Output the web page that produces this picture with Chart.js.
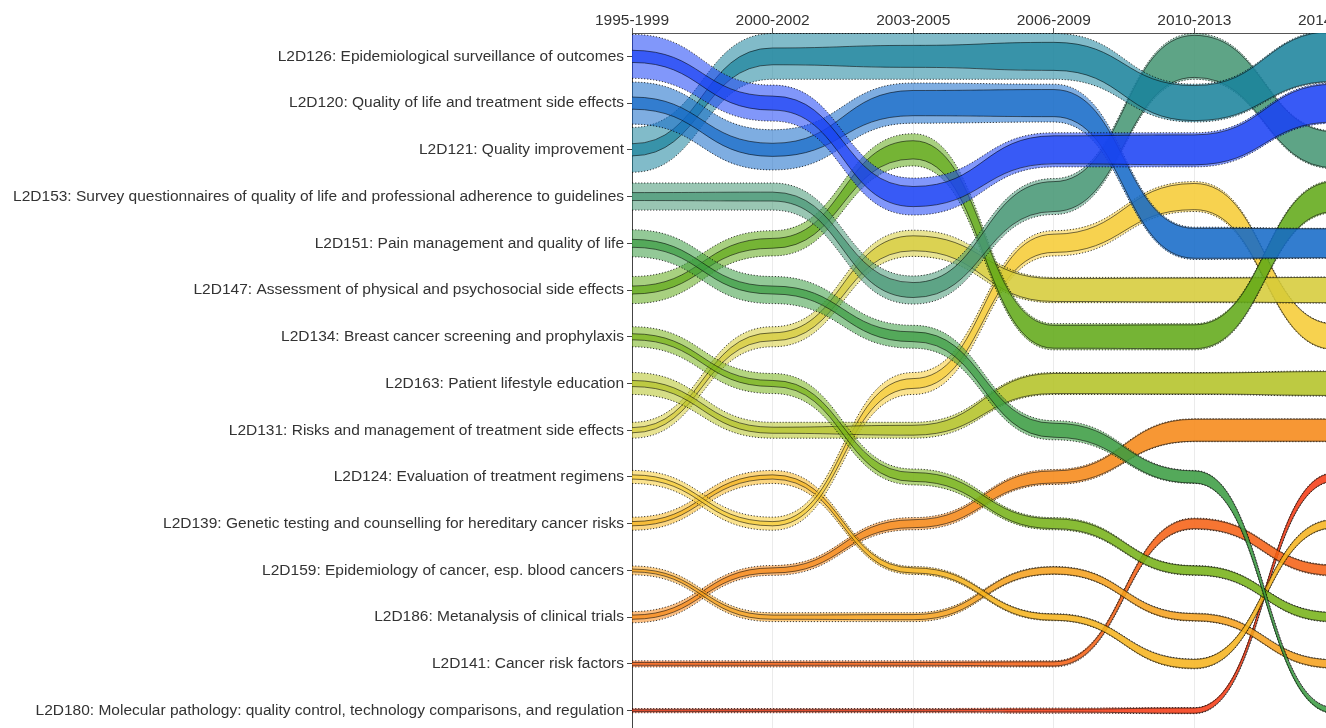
<!DOCTYPE html>
<html>
<head>
<meta charset="utf-8">
<script src="https://cdn.jsdelivr.net/npm/chart.js@4/dist/chart.umd.min.js"></script>
<style>
  html, body { margin: 0; padding: 0; overflow: hidden; background: #fff; }
  #wrap { position: relative; width: 1335px; height: 734px; }
</style>
</head>
<body>
<div id="wrap"><canvas id="flowChart"></canvas></div>
<script>
// Periode (sumbu x)
var periods = ["1995-1999", "2000-2002", "2003-2005", "2006-2009", "2010-2013", "2014-2017"];

// Topik, urut menurut peringkat pada periode pertama
var topics = [
  "L2D126: Epidemiological surveillance of outcomes",
  "L2D120: Quality of life and treatment side effects",
  "L2D121: Quality improvement",
  "L2D153: Survey questionnaires of quality of life and professional adherence to guidelines",
  "L2D151: Pain management and quality of life",
  "L2D147: Assessment of physical and psychosocial side effects",
  "L2D134: Breast cancer screening and prophylaxis",
  "L2D163: Patient lifestyle education",
  "L2D131: Risks and management of treatment side effects",
  "L2D124: Evaluation of treatment regimens",
  "L2D139: Genetic testing and counselling for hereditary cancer risks",
  "L2D159: Epidemiology of cancer, esp. blood cancers",
  "L2D186: Metanalysis of clinical trials",
  "L2D141: Cancer risk factors",
  "L2D180: Molecular pathology: quality control, technology comparisons, and regulation"
];

// Peringkat tiap topik per periode
var ranks = [
  [0, 1, 3, 2, 2, 1],
  [1, 2, 1, 1, 4, 4],
  [2, 0, 0, 0, 1, 0],
  [3, 3, 5, 3, 0, 2],
  [4, 5, 6, 8, 9, 14],
  [5, 4, 2, 6, 6, 3],
  [6, 7, 9, 10, 11, 12],
  [7, 8, 8, 7, 7, 7],
  [8, 6, 4, 5, 5, 5],
  [9, 10, 7, 4, 3, 6],
  [10, 9, 11, 12, 13, 10],
  [11, 12, 12, 11, 12, 13],
  [12, 11, 10, 9, 8, 8],
  [13, 13, 13, 13, 10, 11],
  [14, 14, 14, 14, 14, 9]
];

// Bobot (lebar pita) - batas atas interval
var outerWeight = [
  [0.94, 0.77, 0.79, 0.73, 0.73, 0.86],
  [0.90, 0.86, 0.86, 0.81, 0.69, 0.64],
  [0.96, 0.98, 0.98, 0.98, 0.81, 1.11],
  [0.58, 0.58, 0.60, 0.77, 0.98, 0.81],
  [0.58, 0.58, 0.49, 0.41, 0.28, 0.13],
  [0.58, 0.54, 0.69, 0.56, 0.56, 0.69],
  [0.43, 0.43, 0.34, 0.26, 0.21, 0.21],
  [0.47, 0.34, 0.34, 0.47, 0.47, 0.54],
  [0.34, 0.43, 0.56, 0.54, 0.54, 0.56],
  [0.28, 0.28, 0.47, 0.54, 0.64, 0.56],
  [0.28, 0.28, 0.17, 0.15, 0.21, 0.19],
  [0.19, 0.19, 0.19, 0.17, 0.17, 0.19],
  [0.24, 0.21, 0.26, 0.32, 0.49, 0.49],
  [0.13, 0.13, 0.13, 0.13, 0.24, 0.24],
  [0.09, 0.09, 0.09, 0.11, 0.13, 0.19]
];

// Bobot (lebar pita) - nilai tengah
var innerWeight = [
  [0.26, 0.30, 0.43, 0.60, 0.64, 0.81],
  [0.26, 0.28, 0.54, 0.58, 0.64, 0.62],
  [0.26, 0.36, 0.47, 0.60, 0.75, 1.07],
  [0.17, 0.19, 0.32, 0.64, 0.90, 0.77],
  [0.17, 0.17, 0.21, 0.30, 0.26, 0.11],
  [0.17, 0.21, 0.39, 0.49, 0.51, 0.64],
  [0.13, 0.13, 0.19, 0.21, 0.19, 0.19],
  [0.13, 0.13, 0.21, 0.43, 0.45, 0.51],
  [0.11, 0.17, 0.32, 0.49, 0.51, 0.54],
  [0.09, 0.09, 0.21, 0.39, 0.56, 0.54],
  [0.09, 0.09, 0.11, 0.13, 0.19, 0.17],
  [0.06, 0.09, 0.11, 0.15, 0.15, 0.17],
  [0.09, 0.11, 0.17, 0.26, 0.47, 0.47],
  [0.06, 0.06, 0.06, 0.09, 0.21, 0.21],
  [0.04, 0.04, 0.04, 0.06, 0.11, 0.17]
];

// Warna dasar tiap topik
var colors = [
  [25, 65, 245], [20, 105, 200], [26, 131, 157], [70, 151, 116], [59, 156, 66],
  [97, 170, 23], [118, 178, 23], [180, 194, 37], [213, 204, 56], [247, 204, 52],
  [247, 180, 28], [247, 161, 28], [247, 135, 21], [247, 97, 18], [247, 59, 18]
];

function rgba(c, a) {
  return "rgba(" + c[0] + "," + c[1] + "," + c[2] + "," + a + ")";
}

function edge(k, weights, sign) {
  return ranks[k].map(function (r, i) {
    return r + sign * weights[k][i] / 2;
  });
}

var datasets = [];
topics.forEach(function (name, k) {
  var base = { pointRadius: 0, tension: 0.5, borderWidth: 1 };
  // pita dalam (lebih gelap, garis tepi solid)
  datasets.push(Object.assign({}, base, {
    label: name,
    data: edge(k, innerWeight, -1),
    borderColor: "rgba(0,0,0,0.55)",
    fill: false,
  }));
  datasets.push(Object.assign({}, base, {
    label: name,
    data: edge(k, innerWeight, 1),
    borderColor: "rgba(0,0,0,0.55)",
    backgroundColor: rgba(colors[k], 0.7),
    fill: "-1",
  }));
  // pita luar (lebih terang, garis tepi titik-titik)
  datasets.push(Object.assign({}, base, {
    label: name,
    data: edge(k, outerWeight, -1),
    borderColor: "rgba(0,0,0,0.75)",
    borderDash: [1.2, 1.8],
    fill: false,
  }));
  datasets.push(Object.assign({}, base, {
    label: name,
    data: edge(k, outerWeight, 1),
    borderColor: "rgba(0,0,0,0.75)",
    borderDash: [1.2, 1.8],
    backgroundColor: rgba(colors[k], 0.55),
    fill: "-1",
  }));
});

// Kurva S: garis singgung mendatar di setiap periode
var flowCurves = {
  id: "flowCurves",
  beforeDatasetsDraw: function (chart) {
    chart.getSortedVisibleDatasetMetas().forEach(function (meta) {
      var line = meta.dataset;
      line.updateControlPoints(chart.chartArea, "x");
      var pts = line.points;
      for (var i = 0; i < pts.length - 1; i++) {
        var a = pts[i], b = pts[i + 1], half = (b.x - a.x) / 2;
        a.cp2x = a.x + half; a.cp2y = a.y;
        b.cp1x = b.x - half; b.cp1y = b.y;
      }
      if (pts.length) { pts[0].cp1x = pts[0].x; pts[0].cp1y = pts[0].y; }
    });
  },
};

Chart.defaults.font.family = "'Liberation Sans', Arial, sans-serif";
Chart.defaults.font.size = 15.5;
Chart.defaults.color = "#333";

new Chart(document.getElementById("flowChart"), {
  type: "line",
  data: { labels: periods, datasets: datasets },
  options: {
    responsive: true,
    maintainAspectRatio: false,
    animation: false,
    events: [],
    layout: { padding: 0 },
    plugins: { legend: { display: false }, tooltip: { enabled: false } },
    scales: {
      x: {
        position: "top",
        offset: false,
        grid: { color: "#ebebeb", tickColor: "#555", tickLength: 5 },
        border: { color: "#555" },
        ticks: { padding: 0, maxRotation: 0, autoSkip: false, font: { lineHeight: 1.0 } },
        afterFit: function (scale) {
          scale.height = 33;
          scale.paddingLeft = 0;
          scale.paddingRight = 0;
        },
      },
      y: {
        type: "linear",
        reverse: true,
        min: -0.5,
        max: 14.5,
        grid: { drawOnChartArea: false, tickColor: "#444", tickLength: 5 },
        border: { color: "#444" },
        ticks: {
          padding: 3,
          callback: function (v) { return topics[v]; },
        },
        afterBuildTicks: function (scale) {
          scale.ticks = topics.map(function (t, i) { return { value: i }; });
        },
        afterFit: function (scale) {
          scale.width = 632;
          scale.paddingTop = 0;
          scale.paddingBottom = 0;
        },
      },
    },
  },
  plugins: [flowCurves],
});
</script>
</body>
</html>
